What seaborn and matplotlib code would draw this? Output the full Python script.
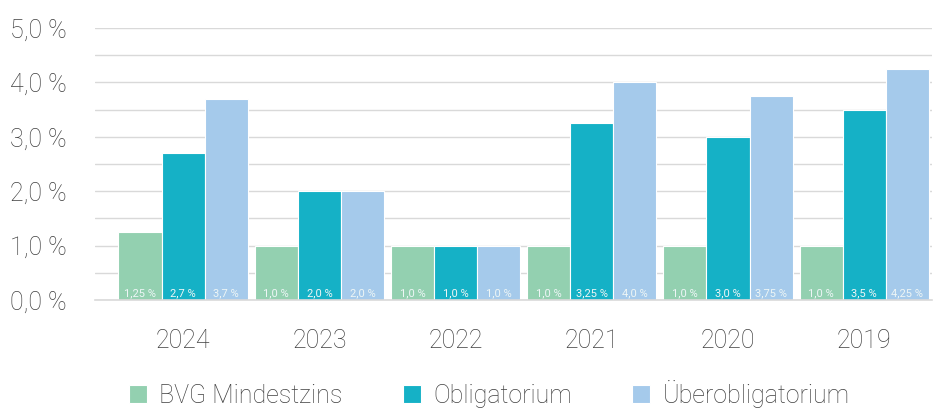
import matplotlib
matplotlib.use('Agg')
import matplotlib.pyplot as plt
import pandas as pd
import seaborn as sns
from matplotlib.ticker import MultipleLocator, FuncFormatter

years = ['2024', '2023', '2022', '2021', '2020', '2019']
bvg = [1.25, 1.0, 1.0, 1.0, 1.0, 1.0]
obligatorium = [2.7, 2.0, 1.0, 3.25, 3.0, 3.5]
ueberobligatorium = [3.7, 2.0, 1.0, 4.0, 3.75, 4.25]
series = ['BVG Mindestzins', 'Obligatorium', 'Überobligatorium']
colors = ['#93D0B0', '#15B1C6', '#A5CAEB']

df = pd.DataFrame({
    'Jahr': years * 3,
    'Wert': bvg + obligatorium + ueberobligatorium,
    'Serie': [s for s in series for _ in years],
})

sns.set_theme(style='white')
plt.rcParams['font.family'] = ['Roboto', 'DejaVu Sans']
plt.rcParams['font.weight'] = 'light'

fig, ax = plt.subplots(figsize=(9.37, 4.08), dpi=100)
sns.barplot(data=df, x='Jahr', y='Wert', hue='Serie', palette=colors,
            width=0.95, edgecolor='white', linewidth=0.8, saturation=1,
            order=years, hue_order=series, ax=ax)

def fmt(v):
    s = f'{v:.2f}'.rstrip('0')
    if s.endswith('.'):
        s += '0'
    return s.replace('.', ',') + ' %'

for cont in ax.containers:
    for bar, val in zip(cont.patches, cont.datavalues):
        ax.text(bar.get_x() + bar.get_width() / 2, 0.03, fmt(val),
                ha='center', va='bottom', fontsize=8, color='#eef6f6',
                fontweight='normal')

ax.set_xlim(-0.65, 5.5)
ax.set_ylim(0, 5.0)
ax.yaxis.set_major_locator(MultipleLocator(0.5))
ax.yaxis.set_major_formatter(FuncFormatter(
    lambda y, _: f'{y:.1f}'.replace('.', ',') + ' %' if abs(y - round(y)) < 1e-6 else ''))
ax.grid(axis='y', color='#d9d9d9', linewidth=1)
ax.set_axisbelow(True)
for s in ['top', 'right', 'left']:
    ax.spines[s].set_visible(False)
ax.spines['bottom'].set_color('#d9d9d9')
ax.spines['bottom'].set_linewidth(1.2)
ax.tick_params(axis='y', labelsize=18, colors='#404040', length=0, pad=20)
ax.tick_params(axis='x', labelsize=18, colors='#404040', length=0, pad=21)
ax.set_xlabel('')
ax.set_ylabel('')

handles, labels = ax.get_legend_handles_labels()
ax.legend(handles, labels, loc='center', bbox_to_anchor=(0.471, -0.345),
          ncol=3, frameon=False, fontsize=18, handlelength=0.72, handleheight=0.72,
          columnspacing=2.4, handletextpad=0.5, labelcolor='#404040')

fig.subplots_adjust(left=0.101, right=0.995, top=0.931, bottom=0.265)
fig.savefig('out.png', dpi=100)
